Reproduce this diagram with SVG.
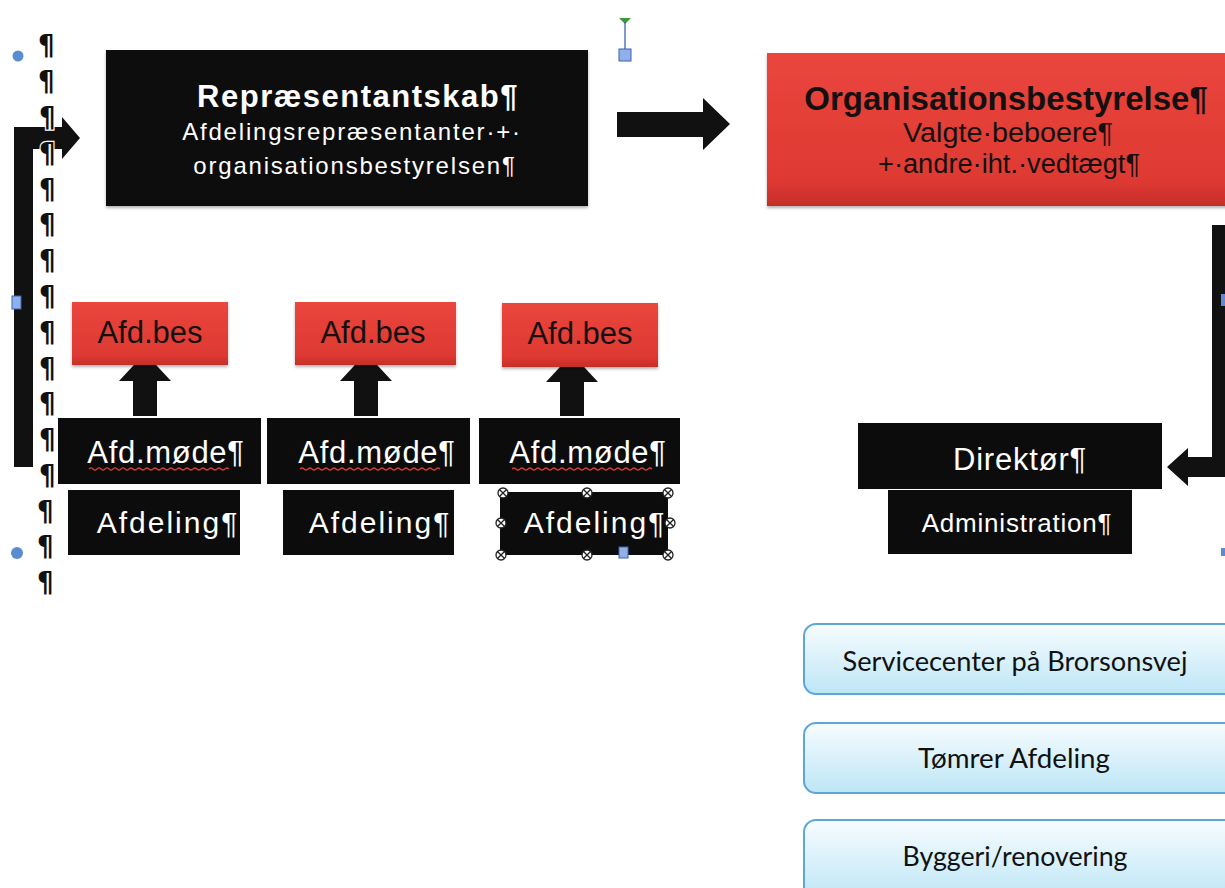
<svg xmlns="http://www.w3.org/2000/svg" width="1225" height="888" viewBox="0 0 1225 888">
<style>
  .blk{fill:#0c0c0c}
  .w{fill:#ffffff;font-family:"Liberation Sans",Arial,sans-serif}
  .dk{fill:#151010;font-family:"Liberation Sans",Arial,sans-serif}
  .pil{font-family:"DejaVu Sans",sans-serif;font-weight:bold;font-size:29px;fill:#111;stroke:#fff;stroke-width:2.5;paint-order:stroke}
  .arr{fill:#111}
  .blue{fill:url(#gBlue);stroke:#5fa6d8;stroke-width:2}
  .bt{font-family:Lato,"Open Sans",sans-serif;font-size:26px;fill:#111;text-anchor:middle}
  .wavy{fill:none;stroke:#d03a3a;stroke-width:1.2}
  .hdl{fill:#fff;stroke:#222;stroke-width:1.3}
  .handle{fill:#8fb0e8;stroke:#3a63b0;stroke-width:1}
</style>
<defs>
  <linearGradient id="gRed" x1="0" y1="0" x2="0" y2="1">
    <stop offset="0" stop-color="#ea463d"/>
    <stop offset="0.85" stop-color="#de3932"/>
    <stop offset="1" stop-color="#c42e29"/>
  </linearGradient>
  <linearGradient id="gBlue" x1="0" y1="0" x2="0" y2="1">
    <stop offset="0" stop-color="#f7fcff"/>
    <stop offset="1" stop-color="#bde6f6"/>
  </linearGradient>
  <filter id="sh" x="-5%" y="-5%" width="110%" height="120%">
    <feDropShadow dx="0" dy="2" stdDeviation="1.5" flood-color="#000" flood-opacity="0.3"/>
  </filter>
  <symbol id="hx" viewBox="-6 -6 12 12" overflow="visible">
    <circle r="5" class="hdl"/>
    <path d="M-3.3,-3.3 L3.3,3.3 M-3.3,3.3 L3.3,-3.3" stroke="#222" stroke-width="1.3"/>
  </symbol>
</defs>
<rect width="1225" height="888" fill="#ffffff"/>

<!-- connectors -->
<g id="connectors">
  <path class="arr" d="M14,467 L14,127 L62,127 L62,117 L80,138 L62,159 L62,149 L33,149 L33,467 Z"/>
  <path class="arr" d="M617,112 L703,112 L703,98 L730,124 L703,150 L703,137 L617,137 Z"/>
  <path class="arr" d="M1232,225 L1212,225 L1212,457 L1188,457 L1188,448 L1167,467 L1188,486 L1188,477 L1232,477 Z"/>
  <path class="arr" d="M145,353 L171,381 L157,381 L157,416 L133,416 L133,381 L119,381 Z"/>
  <path class="arr" d="M366,353 L392,381 L378,381 L378,416 L354,416 L354,381 L340,381 Z"/>
  <path class="arr" d="M572,354 L598,382 L584,382 L584,416 L560,416 L560,382 L546,382 Z"/>
</g>

<!-- pilcrow column -->
<g id="pilcrows" transform="translate(47,0) scale(0.9,1) translate(-47,0)">
  <text class="pil" x="37" y="55">¶</text>
  <text class="pil" x="37" y="91">¶</text>
  <text class="pil" x="38" y="127">¶</text>
  <text class="pil" x="38" y="163">¶</text>
  <text class="pil" x="38" y="199">¶</text>
  <text class="pil" x="38" y="234">¶</text>
  <text class="pil" x="38" y="270">¶</text>
  <text class="pil" x="38" y="306">¶</text>
  <text class="pil" x="38" y="342">¶</text>
  <text class="pil" x="38" y="378">¶</text>
  <text class="pil" x="38" y="413">¶</text>
  <text class="pil" x="38" y="449">¶</text>
  <text class="pil" x="38" y="485">¶</text>
  <text class="pil" x="36" y="521">¶</text>
  <text class="pil" x="36" y="556">¶</text>
  <text class="pil" x="36" y="592">¶</text>
</g>

<!-- editor marks -->
<g id="marks">
  <circle cx="18" cy="56" r="5.5" fill="#5b8bd0"/>
  <circle cx="17" cy="553" r="6" fill="#5b8bd0"/>
  <rect x="12" y="296" width="9" height="13" class="handle"/>
  <path d="M619,18 L631,18 L625,24 Z" fill="#3a9a3a"/>
  <line x1="625" y1="22" x2="625" y2="49" stroke="#3a63b0" stroke-width="1.3"/>
  <rect x="619" y="49" width="12" height="12" class="handle"/>
  <rect x="1221" y="294" width="4" height="12" fill="#5b8bd0"/>
  <rect x="1221" y="548" width="4" height="8" fill="#5b8bd0"/>
</g>

<g id="repraesentantskab">
  <rect x="106" y="50" width="482" height="156" class="blk" filter="url(#sh)"/>
  <text class="w" x="358" y="107" text-anchor="middle" font-weight="bold" font-size="31" letter-spacing="1.5">Repræsentantskab¶</text>
  <text class="w" x="352" y="140" text-anchor="middle" font-size="24" letter-spacing="1.8">Afdelingsrepræsentanter·+·</text>
  <text class="w" x="355" y="174" text-anchor="middle" font-size="24" letter-spacing="1.8">organisationsbestyrelsen¶</text>
</g>

<g id="organisationsbestyrelse">
  <rect x="767" y="53" width="470" height="153" fill="url(#gRed)" filter="url(#sh)"/>
  <text class="dk" x="1006" y="110" text-anchor="middle" font-weight="bold" font-size="33">Organisationsbestyrelse¶</text>
  <text class="dk" x="1008" y="142" text-anchor="middle" font-size="27" textLength="210" lengthAdjust="spacingAndGlyphs">Valgte·beboere¶</text>
  <text class="dk" x="1009" y="173" text-anchor="middle" font-size="27" textLength="262" lengthAdjust="spacingAndGlyphs">+·andre·iht.·vedtægt¶</text>
</g>

<g id="afdbes1">
  <rect x="72" y="302" width="156" height="63" fill="url(#gRed)" filter="url(#sh)"/>
  <text class="dk" x="150" y="343" text-anchor="middle" font-size="31">Afd.bes</text>
</g>
<g id="afdbes2">
  <rect x="295" y="302" width="161" height="63" fill="url(#gRed)" filter="url(#sh)"/>
  <text class="dk" x="373" y="343" text-anchor="middle" font-size="31">Afd.bes</text>
</g>
<g id="afdbes3">
  <rect x="502" y="303" width="156" height="64" fill="url(#gRed)" filter="url(#sh)"/>
  <text class="dk" x="580" y="344" text-anchor="middle" font-size="31">Afd.bes</text>
</g>

<g id="afdmode1">
  <rect x="58" y="418" width="203" height="66" class="blk"/>
  <text class="w" x="166" y="463" text-anchor="middle" font-size="31" letter-spacing="0.7">Afd.møde¶</text>
  <path class="wavy" d="M89,469 q2,-2 4,0 t4,0 t4,0 t4,0 t4,0 t4,0 t4,0 t4,0 t4,0 t4,0 t4,0 t4,0 t4,0 t4,0 t4,0 t4,0 t4,0 t4,0 t4,0 t4,0 t4,0 t4,0 t4,0 t4,0 t4,0 t4,0 t4,0 t4,0 t4,0 t4,0 t4,0 t4,0 t4,0 t4,0 t4,0"/>
</g>
<g id="afdmode2">
  <rect x="267" y="418" width="203" height="66" class="blk"/>
  <text class="w" x="377" y="463" text-anchor="middle" font-size="31" letter-spacing="0.7">Afd.møde¶</text>
  <path class="wavy" d="M300,469 q2,-2 4,0 t4,0 t4,0 t4,0 t4,0 t4,0 t4,0 t4,0 t4,0 t4,0 t4,0 t4,0 t4,0 t4,0 t4,0 t4,0 t4,0 t4,0 t4,0 t4,0 t4,0 t4,0 t4,0 t4,0 t4,0 t4,0 t4,0 t4,0 t4,0 t4,0 t4,0 t4,0 t4,0 t4,0 t4,0"/>
</g>
<g id="afdmode3">
  <rect x="479" y="418" width="201" height="66" class="blk"/>
  <text class="w" x="588" y="463" text-anchor="middle" font-size="31" letter-spacing="0.7">Afd.møde¶</text>
  <path class="wavy" d="M512,469 q2,-2 4,0 t4,0 t4,0 t4,0 t4,0 t4,0 t4,0 t4,0 t4,0 t4,0 t4,0 t4,0 t4,0 t4,0 t4,0 t4,0 t4,0 t4,0 t4,0 t4,0 t4,0 t4,0 t4,0 t4,0 t4,0 t4,0 t4,0 t4,0 t4,0 t4,0 t4,0 t4,0 t4,0 t4,0 t4,0"/>
</g>

<g id="afdeling1">
  <rect x="68" y="490" width="172" height="65" class="blk"/>
  <text class="w" x="168" y="533" text-anchor="middle" font-size="30" letter-spacing="2">Afdeling¶</text>
</g>
<g id="afdeling2">
  <rect x="283" y="490" width="171" height="65" class="blk"/>
  <text class="w" x="380" y="533" text-anchor="middle" font-size="30" letter-spacing="2">Afdeling¶</text>
</g>
<g id="afdeling3">
  <rect x="500" y="492" width="168" height="63" class="blk"/>
  <text class="w" x="595" y="533" text-anchor="middle" font-size="30" letter-spacing="2">Afdeling¶</text>
  <use href="#hx" x="497" y="487" width="12" height="12"/>
  <use href="#hx" x="581" y="487" width="12" height="12"/>
  <use href="#hx" x="662" y="487" width="12" height="12"/>
  <use href="#hx" x="495" y="517" width="12" height="12"/>
  <use href="#hx" x="664" y="517" width="12" height="12"/>
  <use href="#hx" x="495" y="549" width="12" height="12"/>
  <use href="#hx" x="581" y="549" width="12" height="12"/>
  <use href="#hx" x="662" y="549" width="12" height="12"/>
  <rect x="619" y="547" width="9" height="11" class="handle"/>
</g>

<g id="direktoer">
  <rect x="858" y="423" width="304" height="66" class="blk"/>
  <text class="w" x="1020" y="470" text-anchor="middle" font-size="31" letter-spacing="0.8">Direktør¶</text>
</g>
<g id="administration">
  <rect x="888" y="490" width="244" height="64" class="blk"/>
  <text class="w" x="1017" y="532" text-anchor="middle" font-size="26" letter-spacing="0.8">Administration¶</text>
</g>

<g id="servicecenter">
  <rect x="804" y="624" width="440" height="70" rx="12" class="blue"/>
  <text class="bt" x="1015" y="671" textLength="345" lengthAdjust="spacingAndGlyphs">Servicecenter på Brorsonsvej</text>
</g>
<g id="toemrer">
  <rect x="804" y="723" width="440" height="70" rx="12" class="blue"/>
  <text class="bt" x="1014" y="768" textLength="192" lengthAdjust="spacingAndGlyphs">Tømrer Afdeling</text>
</g>
<g id="byggeri">
  <rect x="804" y="820" width="440" height="80" rx="12" class="blue"/>
  <text class="bt" x="1015" y="866" textLength="225" lengthAdjust="spacingAndGlyphs">Byggeri/renovering</text>
</g>
</svg>
